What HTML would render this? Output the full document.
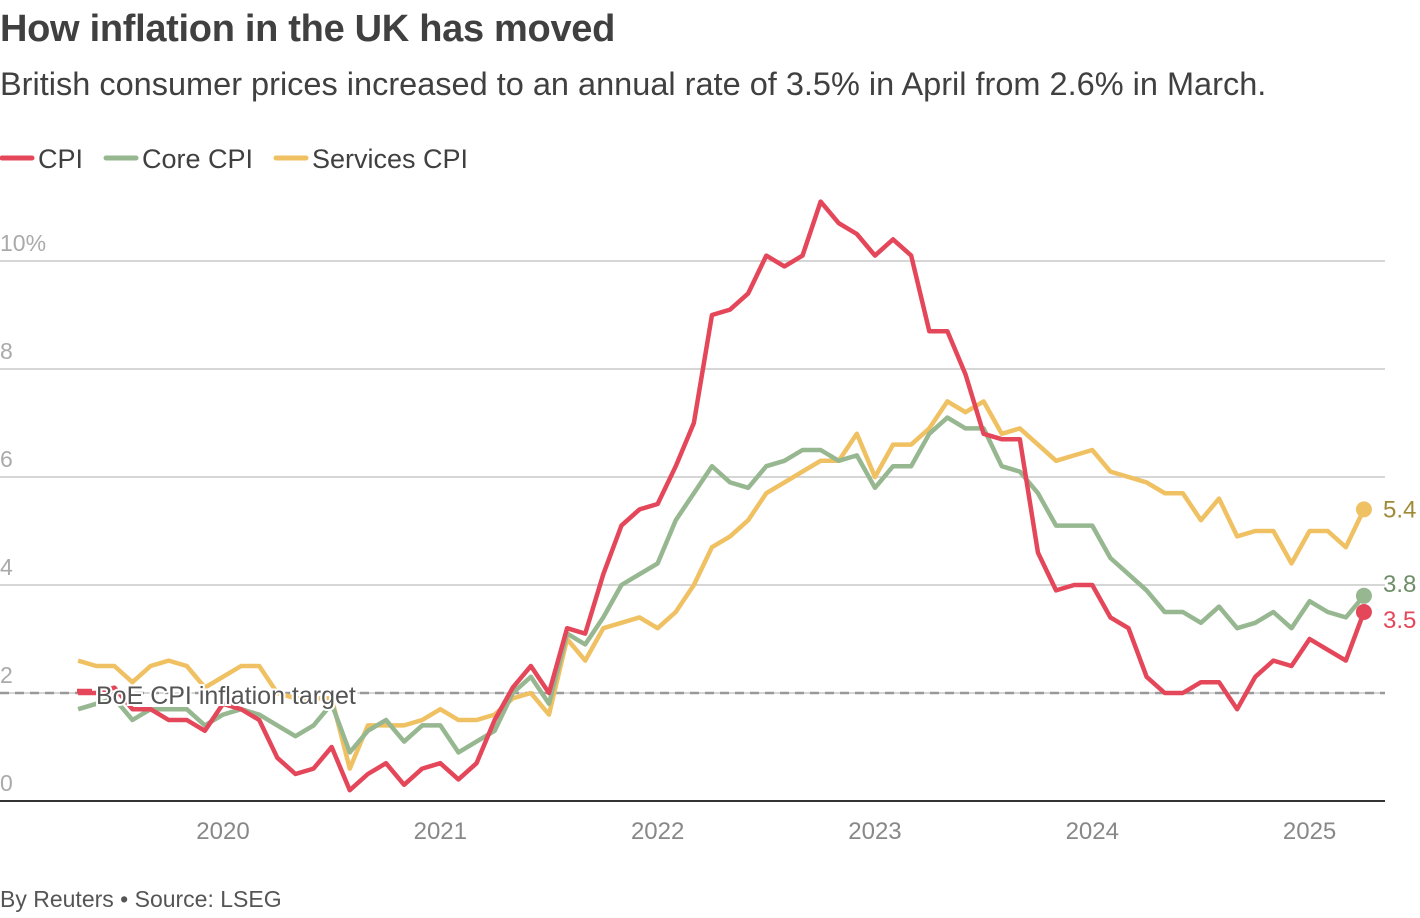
<!DOCTYPE html>
<html><head><meta charset="utf-8"><style>
body{margin:0;width:1420px;height:918px;background:#fff;font-family:"Liberation Sans",sans-serif;overflow:hidden;position:relative}
.t{position:absolute;left:0;white-space:nowrap}
</style></head><body>
<div class="t" style="top:8px;font-size:38px;font-weight:bold;color:#404040;letter-spacing:-0.3px">How inflation in the UK has moved</div>
<div class="t" style="top:66px;font-size:32.5px;color:#404040">British consumer prices increased to an annual rate of 3.5% in April from 2.6% in March.</div>
<div class="t" style="top:886px;font-size:23px;color:#555">By Reuters • Source: LSEG</div>
<svg id="c" width="1420" height="918" style="position:absolute;left:0;top:0;font-family:'Liberation Sans',sans-serif"></svg>
<script>
const startYear=2019, startMonth=4; // May 2019
const cpi=[2.0,2.0,2.1,1.7,1.7,1.5,1.5,1.3,1.8,1.7,1.5,0.8,0.5,0.6,1.0,0.2,0.5,0.7,0.3,0.6,0.7,0.4,0.7,1.5,2.1,2.5,2.0,3.2,3.1,4.2,5.1,5.4,5.5,6.2,7.0,9.0,9.1,9.4,10.1,9.9,10.1,11.1,10.7,10.5,10.1,10.4,10.1,8.7,8.7,7.9,6.8,6.7,6.7,4.6,3.9,4.0,4.0,3.4,3.2,2.3,2.0,2.0,2.2,2.2,1.7,2.3,2.6,2.5,3.0,2.8,2.6,3.5];
const core=[1.7,1.8,1.9,1.5,1.7,1.7,1.7,1.4,1.6,1.7,1.6,1.4,1.2,1.4,1.8,0.9,1.3,1.5,1.1,1.4,1.4,0.9,1.1,1.3,2.0,2.3,1.8,3.1,2.9,3.4,4.0,4.2,4.4,5.2,5.7,6.2,5.9,5.8,6.2,6.3,6.5,6.5,6.3,6.4,5.8,6.2,6.2,6.8,7.1,6.9,6.9,6.2,6.1,5.7,5.1,5.1,5.1,4.5,4.2,3.9,3.5,3.5,3.3,3.6,3.2,3.3,3.5,3.2,3.7,3.5,3.4,3.8];
const services=[2.6,2.5,2.5,2.2,2.5,2.6,2.5,2.1,2.3,2.5,2.5,2.0,1.9,1.9,1.9,0.6,1.4,1.4,1.4,1.5,1.7,1.5,1.5,1.6,1.9,2.0,1.6,3.0,2.6,3.2,3.3,3.4,3.2,3.5,4.0,4.7,4.9,5.2,5.7,5.9,6.1,6.3,6.3,6.8,6.0,6.6,6.6,6.9,7.4,7.2,7.4,6.8,6.9,6.6,6.3,6.4,6.5,6.1,6.0,5.9,5.7,5.7,5.2,5.6,4.9,5.0,5.0,4.4,5.0,5.0,4.7,5.4];
const yTicks=[0,2,4,6,8,10];
const yTickLabels=["0","2","4","6","8","10%"];
const xYears=[2020,2021,2022,2023,2024,2025];
const target=2;
const svg=document.getElementById('c');const NS='http://www.w3.org/2000/svg';
const y=v=>801-v*54;
const xm=m=>223+(m-12*2020)*18.11;
const xi=i=>xm(startYear*12+startMonth+i);
function mk(t,a,p){const e=document.createElementNS(NS,t);for(const k in a)e.setAttribute(k,a[k]);(p||svg).appendChild(e);return e;}
yTicks.forEach((v,i)=>{
 if(v>0){const l=mk('line',{x1:0,x2:1385,y1:y(v),y2:y(v),stroke:'#c8c8c8','stroke-width':1.5});
 }
 const t=mk('text',{x:0,y:y(v)-10,'font-size':23,fill:'#aaa'});t.textContent=yTickLabels[i];
 
});
const tl=mk('line',{x1:0,x2:1385,y1:y(target),y2:y(target),stroke:'#999','stroke-width':2.5,'stroke-dasharray':'9,6'});

const base=mk('line',{x1:0,x2:1385,y1:801,y2:801,stroke:'#333','stroke-width':2});

xYears.forEach(yr=>{const t=mk('text',{x:xm(yr*12),y:839,'font-size':24,fill:'#888','text-anchor':'middle'});t.textContent=yr;
 });
function series(d,c,name){
 const p=mk('polyline',{points:d.map((v,i)=>xi(i)+','+y(v)).join(' '),fill:'none',stroke:c,'stroke-width':4.5,'stroke-linejoin':'round'});
 
 const n=d.length-1;const dot=mk('circle',{cx:xi(n),cy:y(d[n]),r:8,fill:c});
 
}
series(services,'#f0c162','services-cpi');
series(core,'#96b790','core-cpi');
series(cpi,'#e5475a','cpi');
const ends=[[services,'#a08a35',0],[core,'#6e8e68',-12],[cpi,'#e5475a',8]];
ends.forEach(([d,c,off])=>{const v=d[d.length-1];const t=mk('text',{x:1383,y:y(v)+8+off,'font-size':24,fill:c});t.textContent=v.toFixed(1);
 });
const tg=mk('g',{});
mk('line',{x1:77,x2:92,y1:y(target)-2,y2:y(target)-2,stroke:'#e5475a','stroke-width':4.5},tg);
const tt=mk('text',{x:96,y:y(target)+11,'font-size':25,fill:'#555',stroke:'#fff','stroke-width':4,'paint-order':'stroke'},tg);tt.textContent='BoE CPI inflation target';
const leg=[['CPI','#e5475a',0],['Core CPI','#96b790',104],['Services CPI','#f0c162',274]];
leg.forEach(([n,c,x0])=>{const g=mk('g',{});
 mk('line',{x1:x0+2,x2:x0+32,y1:158,y2:158,stroke:c,'stroke-width':5,'stroke-linecap':'round'},g);
 const t=mk('text',{x:x0+38,y:168,'font-size':27,fill:'#404040'},g);t.textContent=n;});
</script>
</body></html>
